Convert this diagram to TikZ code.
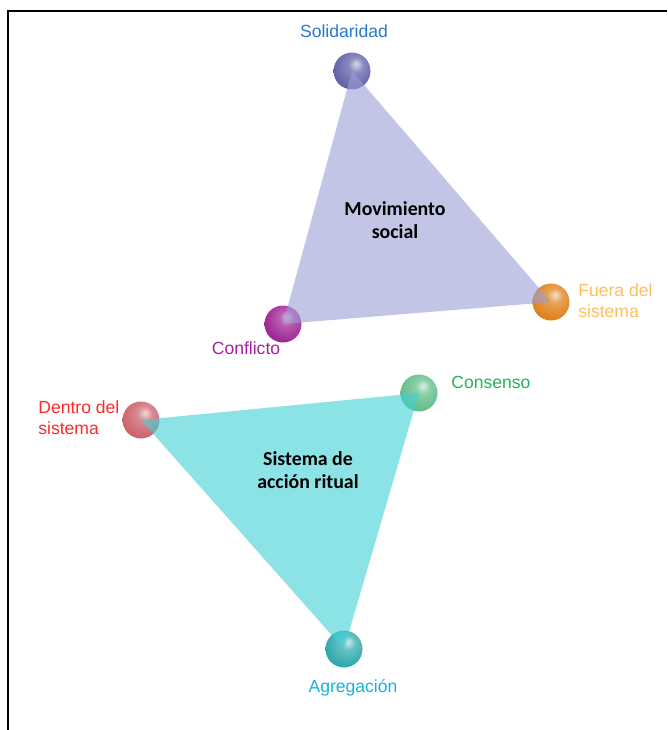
\documentclass[tikz,border=0pt]{standalone}
\usepackage{fontspec}
\setmainfont{Liberation Sans}
\newfontfamily\midfont{Carlito}
\usetikzlibrary{positioning}

\definecolor{solC}{RGB}{100,100,170}
\definecolor{fueC}{RGB}{225,130,30}
\definecolor{cflC}{RGB}{160,40,150}
\definecolor{denC}{RGB}{205,100,110}
\definecolor{cnsC}{RGB}{100,190,140}
\definecolor{agrC}{RGB}{50,170,175}
\definecolor{solT}{RGB}{40,120,205}
\definecolor{fueT}{RGB}{255,190,90}
\definecolor{cflT}{RGB}{170,30,160}
\definecolor{denT}{RGB}{255,40,40}
\definecolor{cnsT}{RGB}{30,180,90}
\definecolor{agrT}{RGB}{20,180,225}
\definecolor{movF}{RGB}{155,158,213}
\definecolor{sisF}{RGB}{63,208,213}
\colorlet{ballC}{gray}

\pgfdeclareradialshading[ballC]{softball}{\pgfpoint{6bp}{10bp}}{%
  color(0bp)=(ballC!25!white); color(10bp)=(ballC!75!white);
  color(28bp)=(ballC); color(48bp)=(ballC!88!black); color(65bp)=(ballC!75!black)}

\tikzset{ball/.style={circle, /utils/exec={\colorlet{ballC}{#1}}, shade, shading=softball, minimum size=0.74cm, inner sep=0pt}}
\tikzset{lbl/.style={inner sep=0pt, align=left, font=\fontsize{10}{12}\selectfont}}
\tikzset{mid/.style={inner sep=0pt, align=center, font=\midfont\bfseries\fontsize{11.3}{12.8}\selectfont}}
\tikzset{tri/.style={fill=#1, fill opacity=0.6}}

\begin{document}
\begin{tikzpicture}[x=0.02cm, y=-0.02cm]
\useasboundingbox (0,0) rectangle (667,730);
\draw[line width=1.1pt] (8,730) -- (8,11) -- (667,11);

% esferas
\node (sol) [ball=solC] at (352,71) {};
\node (fue) [ball=fueC] at (551,302) {};
\node (cfl) [ball=cflC] at (283,324) {};
\node (den) [ball=denC] at (141,420) {};
\node (cns) [ball=cnsC] at (419,393) {};
\node (agr) [ball=agrC] at (344,649) {};

% triangulos
\fill[tri=movF] (sol.center) -- (fue.center) -- (cfl.center) -- cycle;
\fill[tri=sisF] (den.center) -- (cns.center) -- (agr.center) -- cycle;

\node (movL) [mid] at (395,220) {Movimiento\\social};
\node (sisL) [mid] at (308,470) {Sistema de\\acción ritual};

% etiquetas
\node (solL) [lbl, text=solT, anchor=base] at (344,37) {Solidaridad};
\node (fueL) [lbl, text=fueT, anchor=west] at (578,301) {Fuera del\\sistema};
\node (cflL) [lbl, text=cflT, anchor=base] at (246,354) {Conflicto};
\node (denL) [lbl, text=denT, anchor=west] at (38,418) {Dentro del\\sistema};
\node (cnsL) [lbl, text=cnsT, anchor=base west] at (451,388) {Consenso};
\node (agrL) [lbl, text=agrT, anchor=base] at (353,692) {Agregación};
\end{tikzpicture}
\end{document}
